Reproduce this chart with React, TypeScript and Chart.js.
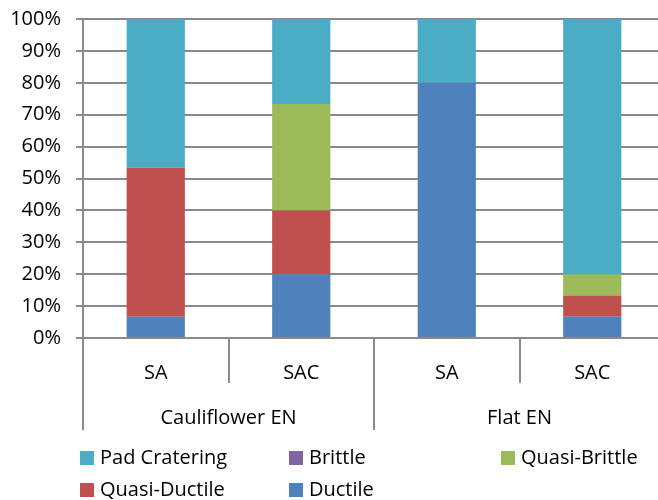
import React, { useEffect, useRef } from "react";
import { Chart, registerables } from "chart.js";

Chart.register(...registerables);

// ---- data ----
const categories = ["SA", "SAC", "SA", "SAC"];
const groups = ["Cauliflower EN", "Flat EN"];
const groupSize = 2;

const ductile = [6.67, 20, 80, 6.67];
const quasiDuctile = [46.67, 20, 0, 6.67];
const brittle = [0, 0, 0, 0];
const quasiBrittle = [0, 33.33, 0, 6.67];
const padCratering = [46.67, 26.67, 20, 80];

const yTickValues = [0, 10, 20, 30, 40, 50, 60, 70, 80, 90, 100];

const legendOrder = ["Pad Cratering", "Brittle", "Quasi-Brittle", "Quasi-Ductile", "Ductile"];

// ---- styles ----
const FONT = "'Open Sans', 'Noto Sans', sans-serif";
const FONT_SIZE = 20;
const GRID = "#8a8a8a";
const GRID_W = 2;
const TEXT = "#000000";

const colors: Record<string, string> = {
  "Ductile": "#4F81BD",
  "Quasi-Ductile": "#C0504D",
  "Brittle": "#8064A2",
  "Quasi-Brittle": "#9BBB59",
  "Pad Cratering": "#4BACC6",
};

const hierarchyPlugin = {
  id: "hierarchyAxis",
  afterDraw(chart: any) {
    const ctx = chart.ctx as CanvasRenderingContext2D;
    const xs = chart.scales.x;
    const area = chart.chartArea;
    const n = categories.length;
    const catW = (xs.right - xs.left) / n;
    ctx.save();
    ctx.strokeStyle = GRID;
    ctx.lineWidth = GRID_W;
    // separators
    for (let i = 0; i <= n; i++) {
      const x = Math.round(xs.getPixelForValue(i) - catW / 2);
      const isGroup = i % groupSize === 0;
      const len = isGroup ? 92 : 45;
      ctx.beginPath();
      ctx.moveTo(x, area.bottom);
      ctx.lineTo(x, area.bottom + len);
      ctx.stroke();
    }
    ctx.fillStyle = TEXT;
    ctx.font = `${FONT_SIZE}px ${FONT}`;
    ctx.textAlign = "center";
    ctx.textBaseline = "middle";
    categories.forEach((c, i) => {
      ctx.fillText(c, xs.getPixelForValue(i), area.bottom + 35);
    });
    groups.forEach((g, gi) => {
      const a = xs.getPixelForValue(gi * groupSize);
      const b = xs.getPixelForValue(gi * groupSize + groupSize - 1);
      ctx.fillText(g, (a + b) / 2, area.bottom + 80);
    });

    // legend
    const colX = [80, 289, 501];
    const rowY = [451, 483];
    const box = 14;
    ctx.textAlign = "left";
    legendOrder.forEach((name, k) => {
      const ds = chart.data.datasets.find((d: any) => d.label === name);
      const col = k % 3;
      const row = Math.floor(k / 3);
      const x = colX[col];
      const y = rowY[row];
      ctx.fillStyle = ds.backgroundColor;
      ctx.fillRect(x, y, box, box);
      ctx.fillStyle = TEXT;
      ctx.fillText(name, x + box + 6, y + box / 2);
    });
    ctx.restore();
  },
};

export default function App() {
  const ref = useRef<HTMLCanvasElement | null>(null);

  useEffect(() => {
    if (!ref.current) return;
    const mk = (label: string, data: number[]) => ({
      label,
      data,
      backgroundColor: colors[label],
      borderWidth: 0,
      barPercentage: 0.4,
      categoryPercentage: 1,
    });
    const chart = new Chart(ref.current, {
      type: "bar",
      data: {
        labels: categories,
        datasets: [
          mk("Ductile", ductile),
          mk("Quasi-Ductile", quasiDuctile),
          mk("Brittle", brittle),
          mk("Quasi-Brittle", quasiBrittle),
          mk("Pad Cratering", padCratering),
        ],
      },
      options: {
        responsive: false,
        animation: false,
        devicePixelRatio: 1,
        layout: { padding: { top: 19, left: 0, right: 0, bottom: 0 } },
        plugins: {
          legend: { display: false },
          tooltip: { enabled: false },
        },
        scales: {
          x: {
            stacked: true,
            grid: { display: false },
            border: { display: false },
            ticks: { display: false },
            afterFit: (s: any) => {
              s.height = 162;
              s.paddingLeft = 0;
              s.paddingRight = 0;
            },
          },
          y: {
            stacked: true,
            min: 0,
            max: 100,
            afterBuildTicks: (s: any) => {
              s.ticks = yTickValues.map((v) => ({ value: v }));
            },
            afterFit: (s: any) => {
              s.width = 83;
              s.paddingTop = 0;
              s.paddingBottom = 0;
            },
            grid: { color: GRID, lineWidth: GRID_W, tickLength: 7, drawTicks: true },
            border: { display: true, color: GRID, width: GRID_W },
            ticks: {
              padding: 15,
              color: TEXT,
              font: { family: FONT, size: FONT_SIZE },
              callback: (v: any) => `${v}%`,
            },
          },
        },
      },
      plugins: [hierarchyPlugin],
    });
    return () => chart.destroy();
  }, []);

  return (
    <div
      style={{
        position: "fixed",
        left: 0,
        top: 0,
        width: 658,
        height: 500,
        overflow: "hidden",
        background: "#fff",
      }}
    >
      <canvas ref={ref} width={665} height={500} style={{ display: "block", width: 665, height: 500 }} />
    </div>
  );
}
